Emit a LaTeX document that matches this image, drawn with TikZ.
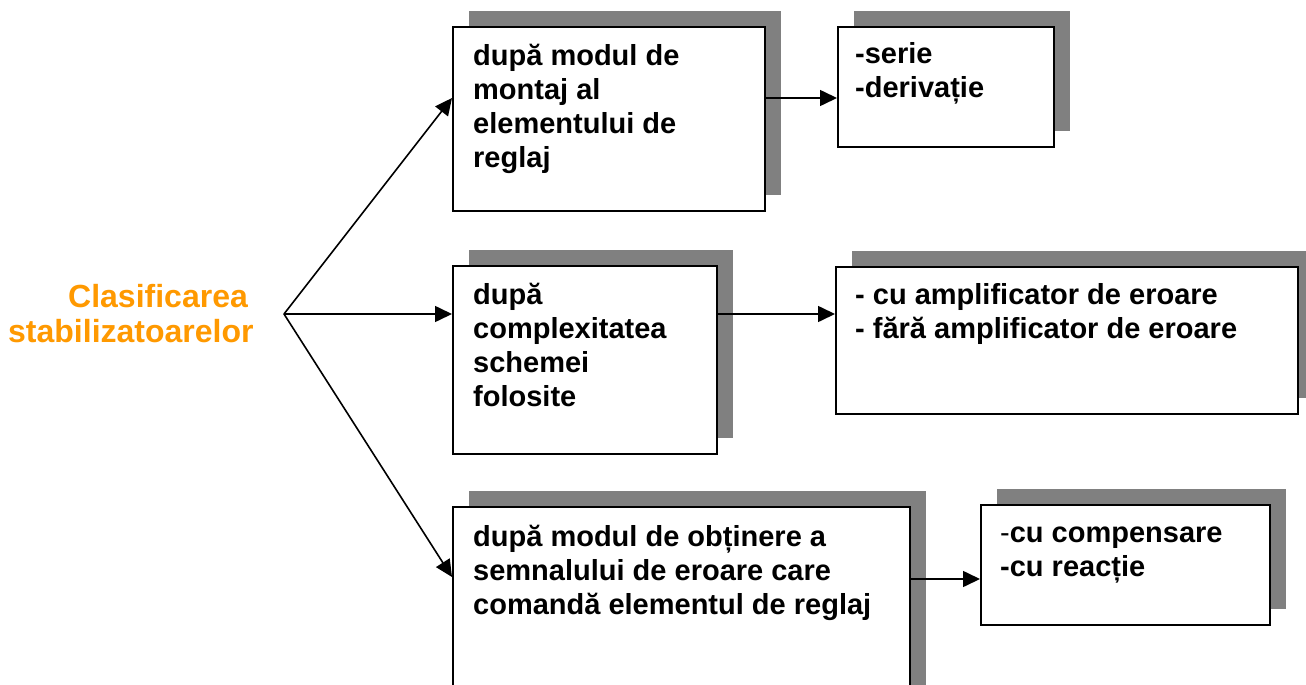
\documentclass[tikz,border=0pt]{standalone}
\usepackage{fontspec}
\setmainfont{Liberation Sans}
\usetikzlibrary{arrows.meta,calc}
\definecolor{shadowgray}{RGB}{128,128,128}
\definecolor{titleorange}{RGB}{255,153,0}
\tikzset{
  boxnode/.style={draw=black, line width=2pt, fill=white, inner sep=0pt, anchor=north west,
    preaction={fill=shadowgray, draw=none, transform canvas={shift={(16pt,16pt)}}}},
  boxtext/.style={anchor=base west, align=left, inner sep=0pt, font=\fontsize{29}{34}\selectfont\bfseries},
  arr/.style={line width=1.6pt, -{Triangle[length=17pt,width=16pt]}},
}
\begin{document}
\begin{tikzpicture}[x=1pt,y=-1pt]
\useasboundingbox (0,0) rectangle (1306,685);
\begin{scope}
\clip (0,0) rectangle (1306,685);
% boxes
\node[boxnode, minimum width=312pt, minimum height=184pt] (b1) at (452,26) {};
\node[boxnode, minimum width=216pt, minimum height=120pt] (b2) at (837,26) {};
\node[boxnode, minimum width=264pt, minimum height=188pt] (b3) at (452,265) {};
\node[boxnode, minimum width=462pt, minimum height=147pt] (b4) at (835,266) {};
\node[boxnode, minimum width=457pt, minimum height=200pt] (b5) at (452,506) {};
\node[boxnode, minimum width=289pt, minimum height=120pt] (b6) at (980,504) {};
\end{scope}
% texts (anchor = baseline of the last line)
\node[boxtext] (t1) at (473,167) {după modul de\\montaj al\\elementului de\\reglaj};
\node[boxtext] (t2) at (855,97) {-serie\\-derivație};
\node[boxtext] (t3) at (473,406) {după\\complexitatea\\schemei\\folosite};
\node[boxtext] (t4) at (855,338) {- cu amplificator de eroare\\- fără amplificator de eroare};
\node[boxtext] (t5) at (473,614) {după modul de obținere a\\semnalului de eroare care\\comandă elementul de reglaj};
\node[boxtext] (t6) at (1000,576) {{\mdseries -}cu compensare\\-cu reacție};
% title
\node[anchor=base west, align=left, inner sep=0pt, text=titleorange,
  font=\fontsize{32}{35}\selectfont\bfseries] (title) at (8,342)
  {\hspace*{60pt}Clasificarea\\stabilizatoarelor};
% connectors
\coordinate (o) at (284,314);
\draw[arr, line cap=round] (o) -- (b1.west |- 0,98);
\draw[arr] (o) -- (b3.west |- 0,314);
\draw[arr] (o) -- (b5.west |- 0,577);
\draw[arr] (b1.east |- 0,98) -- (b2.west |- 0,98);
\draw[arr] (b3.east |- 0,314) -- (b4.west |- 0,314);
\draw[arr] (b5.east |- 0,579) -- (b6.west |- 0,579);
\end{tikzpicture}
\end{document}
